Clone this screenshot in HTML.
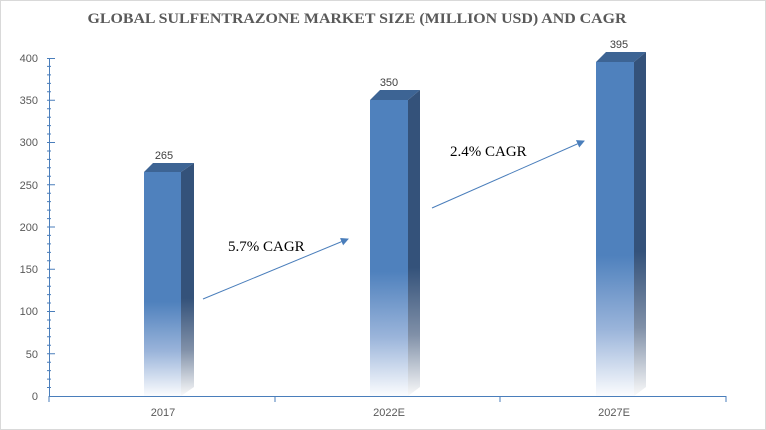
<!DOCTYPE html>
<html><head><meta charset="utf-8"><style>
html,body{margin:0;padding:0;background:#fff}
svg{display:block}
</style></head><body>
<svg width="766" height="430" viewBox="0 0 766 430" xmlns="http://www.w3.org/2000/svg">
<defs>
<linearGradient id="f" x1="0" y1="0" x2="0" y2="1">
<stop offset="0" stop-color="#4f81bd"/><stop offset="0.58" stop-color="#4f81bd"/><stop offset="0.8" stop-color="#9ab4da"/><stop offset="1" stop-color="#fbfcfe"/>
</linearGradient>
<linearGradient id="s" x1="0" y1="0" x2="0" y2="1">
<stop offset="0" stop-color="#34527a"/><stop offset="0.58" stop-color="#34527a"/><stop offset="0.8" stop-color="#8090a8"/><stop offset="1" stop-color="#fafafa"/>
</linearGradient>
<marker id="a" markerWidth="8" markerHeight="8" refX="7" refY="4" orient="auto" markerUnits="userSpaceOnUse"><path d="M0,0 L8,4 L0,8 z" fill="#4a7ebb"/></marker>
</defs>
<rect x="0.5" y="0.5" width="765" height="429" fill="#fff" stroke="#d9d9d9"/>
<text x="357" y="23" text-anchor="middle" font-family="Liberation Serif, serif" font-weight="bold" font-size="15" fill="#595959" textLength="539" lengthAdjust="spacingAndGlyphs">GLOBAL SULFENTRAZONE MARKET SIZE (MILLION USD) AND CAGR</text>
<g stroke="#4a7ebb" stroke-width="1">
<line x1="49.5" y1="58" x2="49.5" y2="396"/>
<line x1="49" y1="396.5" x2="726" y2="396.5"/>
<line x1="49" y1="396" x2="49" y2="402"/>
<line x1="275" y1="396" x2="275" y2="402"/>
<line x1="500" y1="396" x2="500" y2="402"/>
<line x1="726" y1="396" x2="726" y2="402"/>
</g>
<path stroke="#4a7ebb" stroke-width="1" fill="none" d="
M47,387.5h4 M47,379.1h4 M47,370.6h4 M47,362.2h4 M47,353.8h8
M47,345.3h4 M47,336.8h4 M47,328.4h4 M47,320h4 M47,311.5h8
M47,303h4 M47,294.6h4 M47,286.2h4 M47,277.7h4 M47,269.2h8
M47,260.8h4 M47,252.4h4 M47,243.9h4 M47,235.4h4 M47,227h8
M47,218.6h4 M47,210.1h4 M47,201.6h4 M47,193.2h4 M47,184.8h8
M47,176.3h4 M47,167.8h4 M47,159.4h4 M47,151h4 M47,142.5h8
M47,134h4 M47,125.6h4 M47,117.2h4 M47,108.7h4 M47,100.2h8
M47,91.8h4 M47,83.4h4 M47,74.9h4 M47,66.4h4 M47,58.5h8"/>
<g font-family="Liberation Sans, sans-serif" font-size="11" fill="#595959" text-anchor="end">
<text x="38" y="400">0</text><text x="38" y="358">50</text><text x="38" y="315">100</text><text x="38" y="273">150</text><text x="38" y="231">200</text><text x="38" y="189">250</text><text x="38" y="146">300</text><text x="38" y="104">350</text><text x="38" y="62">400</text>
</g>
<g font-family="Liberation Sans, sans-serif" font-size="11" fill="#595959" text-anchor="middle">
<text x="163" y="416">2017</text><text x="389" y="416">2022E</text><text x="614" y="416">2027E</text>
</g>
<g>
<polygon points="144,172 153,163 194,163 181,172" fill="#3d6494"/>
<polygon points="181,172 194,163 194,387 181,396" fill="url(#s)"/>
<rect x="144" y="172" width="37" height="224" fill="url(#f)"/>
<polygon points="370,100 380,90 420,90 408,100" fill="#3d6494"/>
<polygon points="408,100 420,90 420,387 408,396" fill="url(#s)"/>
<rect x="370" y="100" width="38" height="296" fill="url(#f)"/>
<polygon points="596,62 606,52 646,52 634,62" fill="#3d6494"/>
<polygon points="634,62 646,52 646,387 634,396" fill="url(#s)"/>
<rect x="596" y="62" width="38" height="334" fill="url(#f)"/>
</g>
<g font-family="Liberation Sans, sans-serif" font-size="11" fill="#404040" text-anchor="middle">
<text x="164" y="159">265</text><text x="389" y="86">350</text><text x="619" y="48">395</text>
</g>
<line x1="203" y1="299" x2="348" y2="239" stroke="#4a7ebb" marker-end="url(#a)"/>
<line x1="432" y1="208" x2="584" y2="141" stroke="#4a7ebb" marker-end="url(#a)"/>
<g font-family="Liberation Serif, serif" font-size="15" fill="#000">
<text x="228" y="251">5.7% CAGR</text><text x="450" y="156">2.4% CAGR</text>
</g>
</svg>
</body></html>
